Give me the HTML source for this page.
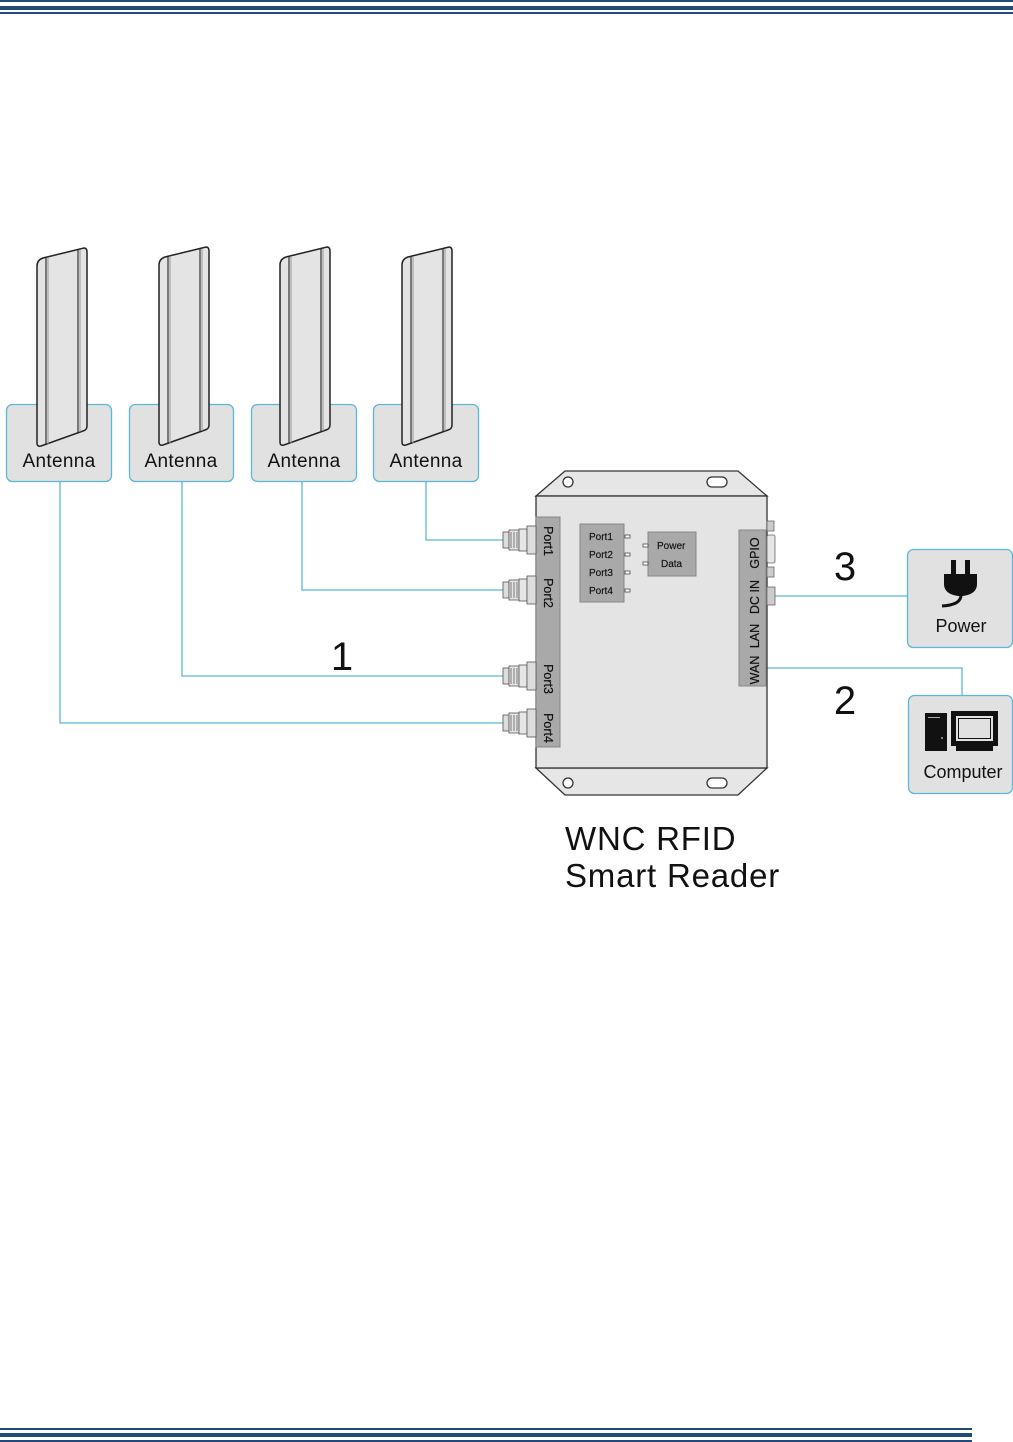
<!DOCTYPE html>
<html><head><meta charset="utf-8"><style>
html,body{margin:0;padding:0;background:#fff;}
svg{display:block;}
text{font-family:"Liberation Sans",Arial,sans-serif;}
</style></head><body>
<svg width="1013" height="1442" viewBox="0 0 1013 1442" xmlns="http://www.w3.org/2000/svg">
<rect x="0" y="0" width="1013" height="2" fill="#1f4a7a"/>
<rect x="0" y="6" width="1013" height="4" fill="#1f4a7a"/>
<rect x="0" y="12" width="1013" height="2" fill="#1f4a7a"/>
<rect x="0" y="1428" width="972" height="2" fill="#1f4a7a"/>
<rect x="0" y="1433" width="972" height="4" fill="#1f4a7a"/>
<rect x="0" y="1440" width="972" height="2" fill="#1f4a7a"/>

<g stroke="#5bb8d8" stroke-width="1.3" fill="none">
<polyline points="60,481 60,723 505,723"/>
<polyline points="182,481 182,676 505,676"/>
<polyline points="302,481 302,590 505,590"/>
<polyline points="426,481 426,540 505,540"/>
<polyline points="775,596 908,596"/>
<polyline points="767,668 962,668 962,695"/>
</g>

<g fill="#e1e1e1" stroke="#5bb8d8" stroke-width="1.3">
<rect x="6.5" y="404.5" width="105" height="77" rx="6"/>
<rect x="129.5" y="404.5" width="104" height="77" rx="6"/>
<rect x="251.5" y="404.5" width="105" height="77" rx="6"/>
<rect x="373.5" y="404.5" width="105" height="77" rx="6"/>
<rect x="907.5" y="549.5" width="105" height="98" rx="6"/>
<rect x="908.5" y="695.5" width="104" height="98" rx="6"/>
</g>

<defs>
<g id="ant">
<path d="M0,18 Q0,12 6,10 L47,0 Q50,0 50,4 L50,178 Q50,182 46,183 L4,198 Q0,199 0,195 Z" fill="#e4e4e4" stroke="#222" stroke-width="1.5"/>
<line x1="9" y1="10" x2="9" y2="196" stroke="#333" stroke-width="1.2"/>
<line x1="11" y1="10" x2="11" y2="196" stroke="#999" stroke-width="1"/>
<line x1="41" y1="2" x2="41" y2="184" stroke="#333" stroke-width="1.2"/>
<line x1="43" y1="2" x2="43" y2="184" stroke="#999" stroke-width="1"/>
</g>
</defs>
<use href="#ant" x="37" y="248"/>
<use href="#ant" x="159" y="247"/>
<use href="#ant" x="280" y="247"/>
<use href="#ant" x="402" y="247"/>

<g font-size="19" fill="#111" text-anchor="middle">
<text x="59" y="467" letter-spacing="0.3">Antenna</text>
<text x="181" y="467" letter-spacing="0.3">Antenna</text>
<text x="304" y="467" letter-spacing="0.3">Antenna</text>
<text x="426" y="467" letter-spacing="0.3">Antenna</text>
<text x="961" y="632" font-size="18">Power</text>
<text x="963" y="778" font-size="18">Computer</text>
</g>

<g fill="#111">
<rect x="951" y="560" width="5" height="14"/>
<rect x="965" y="560" width="5" height="14"/>
<path d="M944,574 L977,574 L977,584 Q977,594 963,596 L958,596 Q944,594 944,584 Z"/>
<path d="M961,595 Q961,605 942,606" stroke="#111" stroke-width="3" fill="none"/>
</g>
<g fill="#111">
<rect x="925" y="713" width="22" height="38"/>
<rect x="951" y="711" width="47" height="35"/>
<rect x="956" y="716" width="37" height="25" fill="#e1e1e1"/>
<rect x="958" y="718" width="33" height="21" fill="#111"/>
<rect x="959" y="719" width="31" height="19" fill="#e1e1e1"/>
<path d="M956,746 L993,746 L993,751 L956,751 Z"/>
<rect x="928" y="717" width="12" height="1" fill="#aaa"/>
<circle cx="942" cy="738" r="1" fill="#aaa"/>
</g>

<g stroke="#333" stroke-width="1.3">
<polygon points="536,496 565,471 738,471 767,496" fill="#e6e6e6"/>
<polygon points="536,768 565,795 738,795 767,768" fill="#e6e6e6"/>
<rect x="536" y="496" width="231" height="272" fill="#e4e4e4"/>
<circle cx="568" cy="482" r="5" fill="#fff"/>
<rect x="707" y="477" width="20" height="10" rx="5" fill="#fff"/>
<circle cx="568" cy="783" r="5" fill="#fff"/>
<rect x="707" y="778" width="20" height="10" rx="5" fill="#fff"/>
</g>
<rect x="536" y="517" width="24" height="230" fill="#a9a9a9" stroke="#888"/>
<rect x="739" y="530" width="27" height="156" fill="#a9a9a9" stroke="#888"/>
<rect x="580" y="524" width="44" height="78" fill="#a9a9a9" stroke="#888"/>
<rect x="648" y="532" width="48" height="44" fill="#a9a9a9" stroke="#888"/>

<defs>
<g id="conn">
<rect x="0" y="-8" width="6" height="16" fill="#ddd" stroke="#555" stroke-width="0.8"/>
<rect x="6" y="-10" width="10" height="20" fill="#e6e6e6" stroke="#555" stroke-width="0.8"/>
<line x1="8" y1="-8" x2="8" y2="8" stroke="#777"/><line x1="11" y1="-8" x2="11" y2="8" stroke="#777"/><line x1="14" y1="-8" x2="14" y2="8" stroke="#777"/>
<rect x="16" y="-11" width="8" height="22" fill="#e6e6e6" stroke="#555" stroke-width="0.8"/>
<rect x="24" y="-14" width="9" height="28" fill="#ddd" stroke="#555" stroke-width="0.8"/>
</g>
</defs>
<use href="#conn" x="503" y="540"/>
<use href="#conn" x="503" y="590"/>
<use href="#conn" x="503" y="676"/>
<use href="#conn" x="503" y="723"/>

<g fill="#ccc" stroke="#666" stroke-width="0.8">
<rect x="767" y="521" width="7" height="10"/>
<rect x="767" y="535" width="8" height="28" rx="2" fill="#e6e6e6"/>
<rect x="767" y="567" width="7" height="10"/>
<rect x="767" y="587" width="8" height="18"/>
</g>

<g font-size="12.5" fill="#111" stroke="#111" stroke-width="0.2">
<text transform="translate(544,541) rotate(90)" text-anchor="middle">Port1</text>
<text transform="translate(544,593) rotate(90)" text-anchor="middle">Port2</text>
<text transform="translate(544,679) rotate(90)" text-anchor="middle">Port3</text>
<text transform="translate(544,728) rotate(90)" text-anchor="middle">Port4</text>
<text transform="translate(759,553) rotate(-90)" text-anchor="middle">GPIO</text>
<text transform="translate(759,597) rotate(-90)" text-anchor="middle">DC IN</text>
<text transform="translate(759,636) rotate(-90)" text-anchor="middle">LAN</text>
<text transform="translate(759,670) rotate(-90)" text-anchor="middle">WAN</text>
</g>
<g font-size="10" fill="#111" stroke="#111" stroke-width="0.15">
<text x="589" y="540">Port1</text>
<text x="589" y="558">Port2</text>
<text x="589" y="576">Port3</text>
<text x="589" y="594">Port4</text>
<text x="657" y="549">Power</text>
<text x="661" y="567">Data</text>
</g>
<g fill="#fff" stroke="#333" stroke-width="0.7">
<rect x="625" y="535" width="5" height="3"/>
<rect x="625" y="553" width="5" height="3"/>
<rect x="625" y="571" width="5" height="3"/>
<rect x="625" y="589" width="5" height="3"/>
<rect x="643" y="544" width="5" height="3"/>
<rect x="643" y="562" width="5" height="3"/>
</g>

<g font-size="40" fill="#111" text-anchor="middle">
<text x="342" y="670">1</text>
<text x="845" y="580">3</text>
<text x="845" y="714">2</text>
</g>

<g font-size="33" fill="#111" letter-spacing="0.8">
<text x="565" y="850">WNC RFID</text>
<text x="565" y="887">Smart Reader</text>
</g>
</svg>
</body></html>
